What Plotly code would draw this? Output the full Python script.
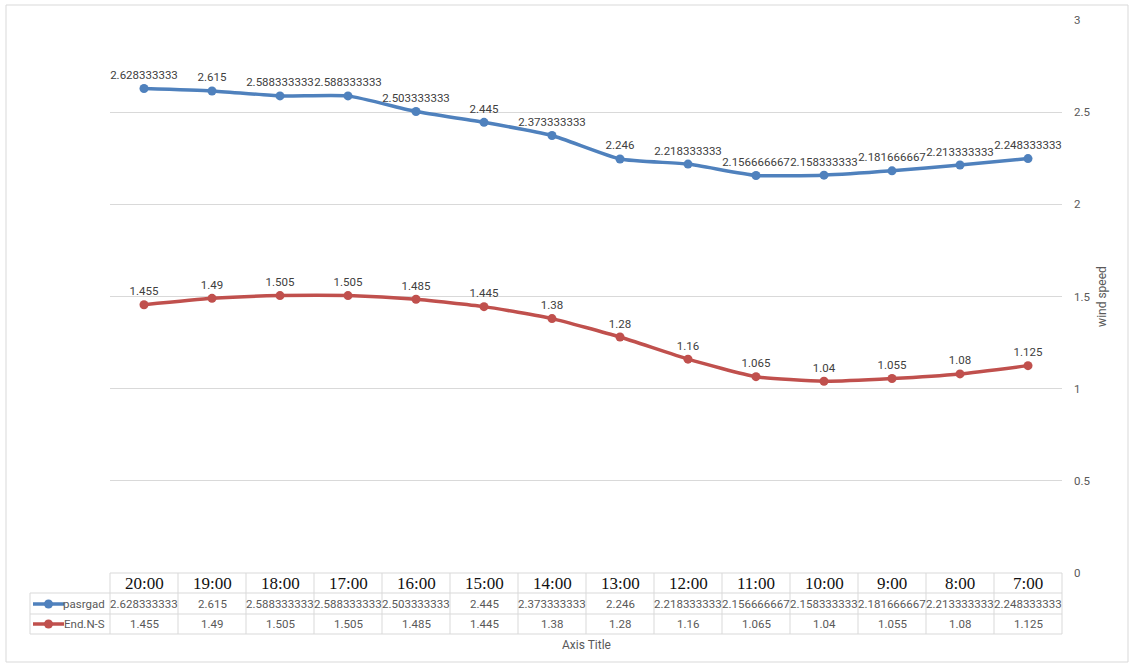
import plotly.graph_objects as go

# Hourly categories (shown in the data table under the plot)
hours = ["20:00", "19:00", "18:00", "17:00", "16:00", "15:00", "14:00",
         "13:00", "12:00", "11:00", "10:00", "9:00", "8:00", "7:00"]

# Mean wind speed per hour for each station
pasrgad = [2.628333333, 2.615, 2.588333333, 2.588333333, 2.503333333, 2.445,
           2.373333333, 2.246, 2.218333333, 2.156666667, 2.158333333,
           2.181666667, 2.213333333, 2.248333333]
end_ns = [1.455, 1.49, 1.505, 1.505, 1.485, 1.445, 1.38, 1.28, 1.16, 1.065,
          1.04, 1.055, 1.08, 1.125]

series_names = ["pasrgad", "End.N-S"]
series_values = [pasrgad, end_ns]
series_colors = ["#4f81bd", "#c0504d"]

y_ticks = [0, 0.5, 1, 1.5, 2, 2.5, 3]

W, H = 1133, 668
L, R, T, B = 110, 1062, 20, 573          # plot area in pixels
N = len(hours)


def fmt(v):
    return f"{v:.10g}"


def px(xp):
    return (xp - L) / (R - L)


def py(yp):
    return (B - yp) / (B - T)


def cat_paper(edge):
    # category-axis value -> paper x (axis range is [-0.5, N-0.5])
    return (edge + 0.5) / N


label_font = dict(family="Roboto, Arial, sans-serif", size=11.5, color="#404040")
table_font = dict(family="Roboto, Arial, sans-serif", size=11.5, color="#595959")
head_font = dict(family="Liberation Serif, Times New Roman, serif", size=17, color="#111111")
grey_line = "#d9d9d9"

fig = go.Figure()
xs = list(range(N))
for name, vals, col in zip(series_names, series_values, series_colors):
    fig.add_trace(go.Scatter(
        x=xs, y=vals, name=name,
        mode="lines+markers+text",
        line=dict(color=col, width=3.5, shape="spline", smoothing=0.5),
        marker=dict(color=col, size=9),
        text=[fmt(v) for v in vals],
        textposition="top center",
        textfont=label_font,
        cliponaxis=False,
        showlegend=False,
    ))

shapes = []
annotations = []

# outer chart border
shapes.append(dict(type="rect", xref="paper", yref="paper",
                   x0=px(6), x1=px(1128), y0=py(662), y1=py(5),
                   line=dict(color=grey_line, width=1), layer="below"))

# data table grid
row_lines = [573, 593, 614, 634]
for i, yl in enumerate(row_lines):
    x_start = L if i == 0 else 30
    shapes.append(dict(type="line", xref="paper", yref="paper",
                       x0=px(x_start), x1=cat_paper(N - 0.5),
                       y0=py(yl), y1=py(yl),
                       line=dict(color=grey_line, width=1)))
for k in range(N + 1):
    xe = cat_paper(k - 0.5)
    shapes.append(dict(type="line", xref="paper", yref="paper",
                       x0=xe, x1=xe, y0=py(573), y1=py(634),
                       line=dict(color=grey_line, width=1)))
shapes.append(dict(type="line", xref="paper", yref="paper",
                   x0=px(30), x1=px(30), y0=py(593), y1=py(634),
                   line=dict(color=grey_line, width=1)))

# header row: hour labels
for i, h in enumerate(hours):
    annotations.append(dict(x=i, xref="x", y=py(583.5), yref="paper",
                            text=h, showarrow=False, font=head_font,
                            xanchor="center", yanchor="middle"))

# value rows with legend keys
row_centres = [604, 624]
for name, vals, col, yc in zip(series_names, series_values, series_colors, row_centres):
    for i, v in enumerate(vals):
        annotations.append(dict(x=i, xref="x", y=py(yc), yref="paper",
                                text=fmt(v), showarrow=False, font=table_font,
                                xanchor="center", yanchor="middle"))
    shapes.append(dict(type="line", xref="paper", yref="paper",
                       x0=px(33), x1=px(64), y0=py(yc), y1=py(yc),
                       line=dict(color=col, width=3.5)))
    shapes.append(dict(type="circle", xref="paper", yref="paper",
                       xsizemode="pixel", ysizemode="pixel",
                       xanchor=px(48.5), yanchor=py(yc),
                       x0=-4.5, x1=4.5, y0=-4.5, y1=4.5,
                       fillcolor=col, line=dict(color=col, width=0)))
    annotations.append(dict(x=px(107), xref="paper", y=py(yc), yref="paper",
                            text=name, showarrow=False, font=table_font,
                            xanchor="right", yanchor="middle"))

# category axis title
annotations.append(dict(x=0.5, xref="paper", y=py(645), yref="paper",
                        text="Axis Title", showarrow=False,
                        font=dict(family="Roboto, Arial, sans-serif", size=12, color="#595959"),
                        xanchor="center", yanchor="middle"))

fig.update_layout(
    width=W, height=H,
    margin=dict(l=L, r=W - R, t=T, b=H - B, pad=0),
    paper_bgcolor="white", plot_bgcolor="white",
    shapes=shapes, annotations=annotations,
    xaxis=dict(range=[-0.5, N - 0.5], showgrid=False, zeroline=False,
               showticklabels=False, ticks="", showline=False, fixedrange=True),
    yaxis=dict(side="right", range=[0, 3], tickvals=y_ticks,
               ticktext=[fmt(t) for t in y_ticks],
               showgrid=True, gridcolor=grey_line, gridwidth=1,
               zeroline=False, showline=False, ticks="",
               ticklabelstandoff=11,
               tickfont=dict(family="Roboto, Arial, sans-serif", size=11.5, color="#595959"),
               title=dict(text="wind speed", standoff=8,
                          font=dict(family="Roboto, Arial, sans-serif", size=12, color="#595959")),
               fixedrange=True),
)

fig.write_html("out.html")
